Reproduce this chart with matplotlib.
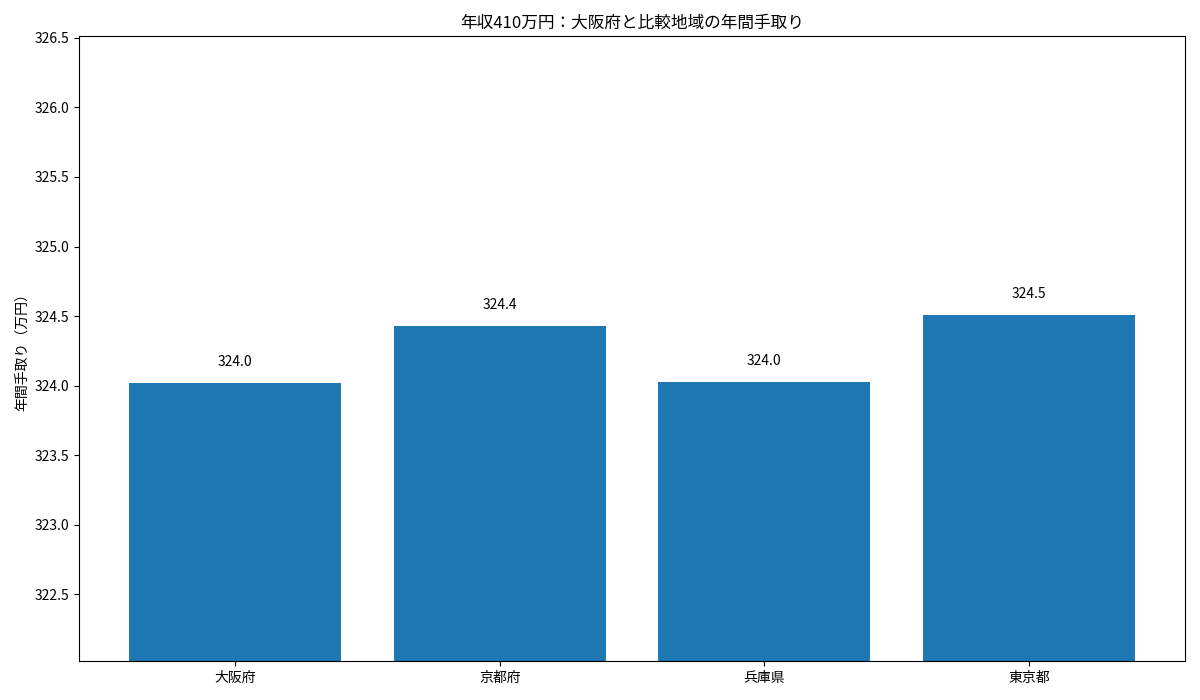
import matplotlib
matplotlib.use("Agg")
from matplotlib import pyplot as plt

plt.rcParams['font.family'] = ['Noto Sans CJK JP', 'DejaVu Sans']

# Data
regions = ["大阪府", "京都府", "兵庫県", "東京都"]
take_home = [324.02, 324.43, 324.03, 324.51]

fig, ax = plt.subplots(figsize=(12, 7), dpi=100)
bars = ax.bar(regions, take_home, color="#1f77b4", width=0.8)

for rect, v in zip(bars, take_home):
    ax.text(rect.get_x() + rect.get_width() / 2, v + 0.1, f"{v:.1f}",
            ha="center", va="bottom", fontsize=10)

ax.set_ylim(min(take_home) - 2, max(take_home) + 2)
ax.set_ylabel("年間手取り（万円）")
ax.set_title("年収410万円：大阪府と比較地域の年間手取り")

fig.tight_layout()
fig.savefig("out.png")
